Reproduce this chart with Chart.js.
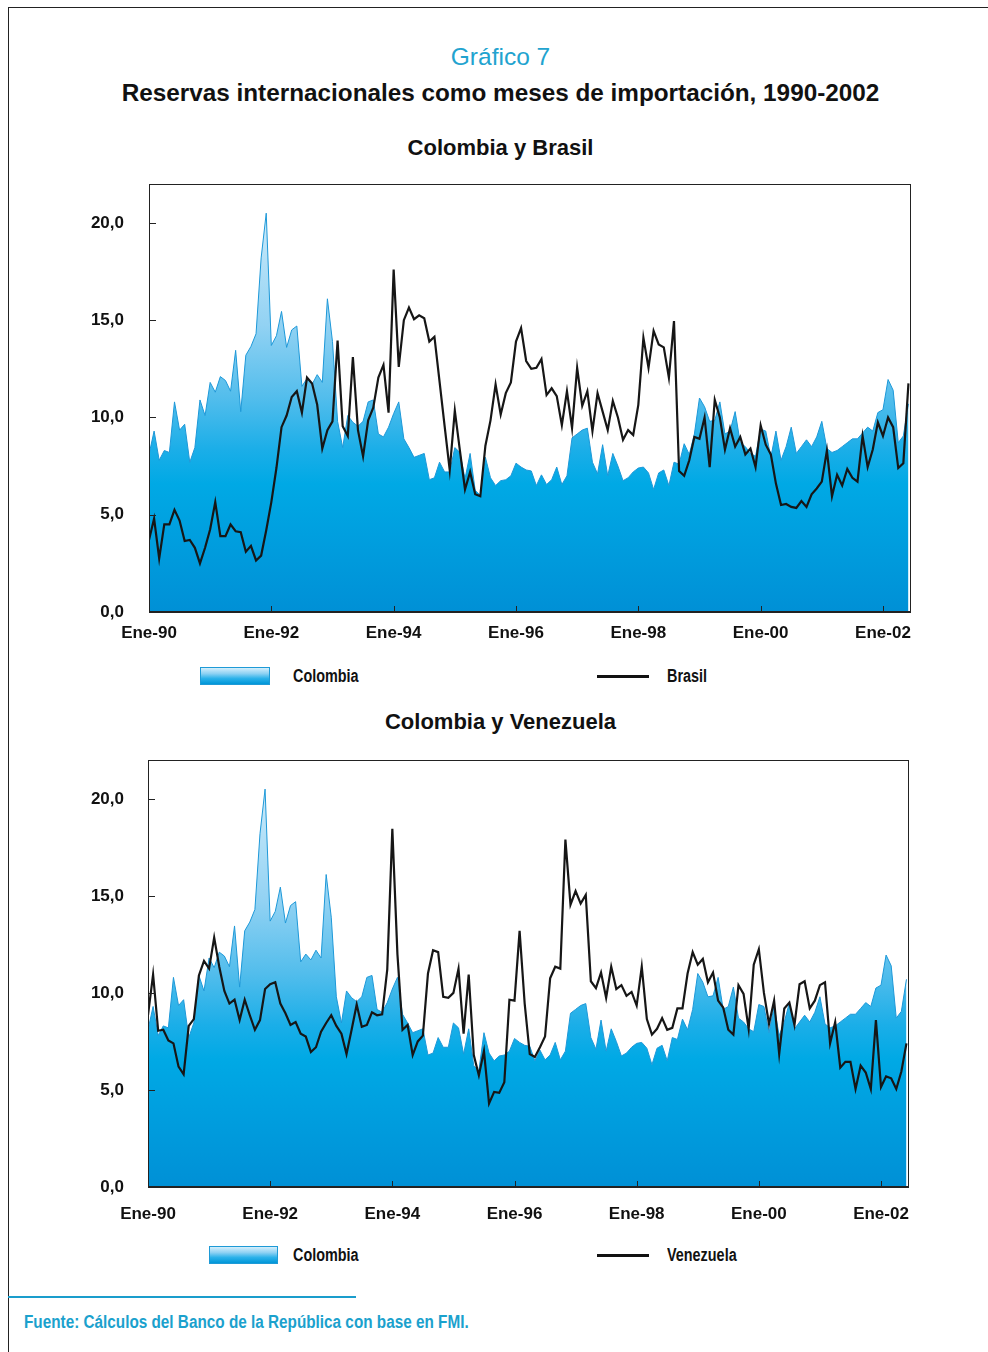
<!DOCTYPE html>
<html lang="es">
<head>
<meta charset="utf-8">
<script src="https://cdn.jsdelivr.net/npm/chart.js@4.4.1/dist/chart.umd.min.js"></script>
<style>
  body{margin:0;width:988px;height:1352px;background:#fff;position:relative;overflow:hidden;
       font-family:"Liberation Sans",Arial,sans-serif;color:#111}
  .frame{position:absolute;left:8px;top:7px;right:-2px;bottom:-2px;border-left:1px solid #222;border-top:1px solid #222}
  .t{position:absolute;left:0;width:1001px;text-align:center;white-space:nowrap;line-height:1}
  .num{top:45px;font-size:24.5px;color:#22a3cf}
  .main{top:81px;font-size:24.3px;font-weight:bold}
  .sub{font-size:22px;font-weight:bold}
  .cv{position:absolute;left:0}
  .sw{position:absolute;height:16px;border:1px solid #1e9ad6;
      background:linear-gradient(#d4effc 0%,#8ed1f3 35%,#2cb2ea 65%,#0096d8 100%)}
  .ln{position:absolute;width:52px;height:3px;background:#111}
  .lg,.foot{position:absolute;font-family:"Liberation Sans",Arial,sans-serif;font-weight:bold;font-size:18px;
      line-height:1;white-space:nowrap;transform:scaleX(0.8);transform-origin:0 50%}
  .foot-line{position:absolute;left:8px;top:1296px;width:348px;height:2px;background:#1a9dcc}
  .foot{left:24px;top:1313px;color:#1ba1cd;transform:scaleX(0.85)}
</style>
</head>
<body>
<div class="frame"></div>
<div class="t num">Gráfico 7</div>
<div class="t main">Reservas internacionales como meses de importación, 1990-2002</div>
<div class="t sub" style="top:137px">Colombia y Brasil</div>
<div class="t sub" style="top:711px">Colombia y Venezuela</div>

<canvas id="c1" class="cv" style="top:170px" width="988" height="480"></canvas>
<canvas id="c2" class="cv" style="top:745px" width="988" height="480"></canvas>

<div class="sw" style="left:200px;top:667px;width:68px"></div>
<div class="lg" style="left:293px;top:667px">Colombia</div>
<div class="ln" style="left:597px;top:675px"></div>
<div class="lg" style="left:667px;top:667px">Brasil</div>

<div class="sw" style="left:209px;top:1246px;width:67px"></div>
<div class="lg" style="left:293px;top:1246px">Colombia</div>
<div class="ln" style="left:597px;top:1254px"></div>
<div class="lg" style="left:667px;top:1246px">Venezuela</div>

<div class="foot-line"></div>
<div class="foot">Fuente: Cálculos del Banco de la República con base en FMI.</div>

<script>
// meses de importación, mensual ene-1990 .. jun-2002 (150 obs.)
const COLOMBIA = [
  8.1, 9.3, 7.8, 8.3, 8.2, 10.8, 9.35, 9.65, 7.7, 8.45, 10.9, 10.1, 11.8, 11.3, 12.1, 11.9, 11.35, 13.45, 10.3, 13.2,
  13.65, 14.3, 18.2, 20.5, 13.7, 14.2, 15.45, 13.6, 14.5, 14.7, 11.6, 12.0, 11.7, 12.2, 11.8, 16.1, 13.9, 9.8,
  8.45, 10.1, 9.75, 9.55, 9.8, 10.8, 10.9, 9.15, 9.0, 9.5, 10.2, 10.8, 8.9, 8.45, 7.95, 8.05, 8.15, 6.8, 6.9, 7.7,
  7.2, 7.2, 8.45, 8.2, 6.85, 8.15, 6.25, 6.0, 7.95, 6.9, 6.5, 6.75, 6.8, 7.0, 7.65, 7.45, 7.3,
  7.25, 6.5, 7.05, 6.55, 6.8, 7.45, 6.55, 7.0, 8.95, 9.15, 9.35, 9.45, 7.7, 7.1, 8.6, 7.0, 8.15, 7.5, 6.75, 6.9,
  7.2, 7.4, 7.45, 7.15, 6.3, 7.15, 7.3, 6.5, 7.7, 7.6, 8.65, 8.1, 9.15, 11.0, 10.55, 9.8, 9.85, 10.8,
  9.15, 9.3, 10.3, 8.7, 8.5, 8.15, 8.0, 9.4, 9.3, 7.95, 9.3, 7.8, 8.5, 9.5, 8.15, 8.5, 8.85, 8.5, 9.0, 9.8,
  8.4, 8.2, 8.3, 8.5, 8.7, 8.9, 8.9, 9.2, 9.5, 9.3, 10.25, 10.4, 11.95, 11.4, 8.7, 9.05, 10.7
];
const BRASIL = [
  3.7, 4.8, 2.75, 4.5, 4.5, 5.25, 4.7, 3.65, 3.7, 3.3, 2.5, 3.3, 4.25, 5.65, 3.9, 3.9, 4.5, 4.15, 4.1, 3.1,
  3.4, 2.65, 2.9, 4.2, 5.65, 7.4, 9.5, 10.1, 11.05, 11.35, 10.25, 12.05, 11.75, 10.65, 8.4, 9.35, 9.8, 13.95,
  9.55, 9.05, 13.1, 9.35, 8.0, 9.85, 10.5, 12.05, 12.7, 10.25, 17.6, 12.6, 15.0, 15.65, 15.05, 15.25, 15.1, 13.9,
  14.15, 11.85, 9.55, 7.3, 10.35, 8.3, 6.3, 7.2, 6.05, 5.95, 8.55, 9.85, 11.7, 10.15, 11.25, 11.8, 13.9, 14.6, 12.9,
  12.5, 12.55, 13.0, 11.15, 11.5, 11.1, 9.6, 11.35, 9.45, 12.55, 10.6, 11.35, 9.3, 11.25, 10.3, 9.35, 10.85, 10.0,
  8.85, 9.35, 9.1, 10.65, 14.1, 12.55, 14.45, 13.75, 13.6, 12.05, 14.95, 7.25, 7.0, 7.8, 9.0, 8.9, 10.0, 7.45, 10.9, 10.0,
  8.35, 9.45, 8.5, 9.0, 8.1, 8.4, 7.45, 9.6, 8.6, 8.1, 6.6, 5.5, 5.55, 5.4, 5.35, 5.7, 5.4, 6.05, 6.35, 6.7,
  8.3, 5.95, 7.05, 6.5, 7.35, 6.9, 6.7, 9.05, 7.45, 8.35, 9.75, 9.05, 10.0, 9.5, 7.4, 7.65, 11.75
];
const VENEZUELA = [
  8.85, 10.95, 8.05, 8.1, 7.55, 7.4, 6.2, 5.8, 8.3, 8.65, 10.9, 11.65, 11.25, 12.85, 11.35, 10.1, 9.45, 9.65, 8.6, 9.65,
  8.85, 8.1, 8.6, 10.2, 10.45, 10.55, 9.45, 8.95, 8.35, 8.5, 7.9, 7.75, 6.95, 7.2, 8.0, 8.45, 8.85, 8.3,
  7.9, 6.85, 8.1, 9.4, 8.25, 8.35, 9.0, 8.85, 8.9, 11.2, 18.45, 12.0, 8.1, 8.35, 6.8, 7.5, 7.8, 11.0, 12.2, 12.1,
  9.8, 9.75, 10.0, 11.25, 7.9, 10.95, 6.8, 5.75, 7.0, 4.3, 4.9, 4.85, 5.4, 9.65, 9.6, 13.2, 9.45,
  6.85, 6.7, 7.2, 7.75, 10.75, 11.35, 11.25, 17.9, 14.55, 15.25, 14.6, 15.05, 10.6, 10.25, 11.05, 9.75, 11.35, 10.2,
  10.4, 9.85, 10.05, 9.35, 11.35, 8.65, 7.85, 8.15, 8.7, 8.1, 8.2, 9.2, 9.2, 11.0, 12.1, 11.45, 11.75, 10.55, 11.05, 9.6,
  9.25, 8.1, 7.85, 10.4, 9.95, 8.15, 11.45, 12.25, 10.0, 8.4, 9.6, 6.85, 9.2, 9.5, 8.35, 10.45, 10.6, 9.2, 9.6, 10.4,
  10.55, 7.4, 8.5, 6.15, 6.45, 6.45, 5.05, 6.25, 5.9, 5.05, 8.6, 5.15, 5.7, 5.6, 5.05, 5.95, 7.4
];
const X_TICKS = [0, 24, 48, 72, 96, 120, 144];
const X_LABELS = ['Ene-90', 'Ene-92', 'Ene-94', 'Ene-96', 'Ene-98', 'Ene-00', 'Ene-02'];
const Y_TICKS = [0, 5, 10, 15, 20];

Chart.defaults.font.family = '"Liberation Sans", Arial, sans-serif';
Chart.defaults.color = '#111';

const pts = arr => arr.map((v, i) => ({x: i, y: v}));

function areaFill(ctx){
  const a = ctx.chart.chartArea;
  if(!a) return '#00a9e5';
  const g = ctx.chart.ctx.createLinearGradient(0, a.top, 0, a.bottom);
  g.addColorStop(0, '#dcf1fc');
  g.addColorStop(0.33, '#92d2f3');
  g.addColorStop(0.5, '#52bdec');
  g.addColorStop(0.62, '#1baee8');
  g.addColorStop(0.7, '#00a9e5');
  g.addColorStop(1, '#0090d6');
  return g;
}

// marco del área y marcas interiores de los ejes
const frame = {
  id: 'frame',
  afterDatasetsDraw(chart){
    const {ctx, chartArea: a, scales: {x, y}} = chart;
    ctx.save();
    ctx.strokeStyle = '#222';
    ctx.lineWidth = 1;
    X_TICKS.slice(1).forEach(v => {
      const px = Math.round(x.getPixelForValue(v)) + 0.5;
      ctx.beginPath(); ctx.moveTo(px, a.bottom); ctx.lineTo(px, a.bottom - 6); ctx.stroke();
    });
    Y_TICKS.slice(1).forEach(v => {
      const py = Math.round(y.getPixelForValue(v)) + 0.5;
      ctx.beginPath(); ctx.moveTo(a.left, py); ctx.lineTo(a.left + 7, py); ctx.stroke();
    });
    ctx.strokeRect(a.left + 0.5, a.top + 0.5, a.right - a.left - 1, a.bottom - a.top - 1);
    ctx.lineWidth = 2;
    ctx.beginPath(); ctx.moveTo(a.left, a.bottom); ctx.lineTo(a.right, a.bottom); ctx.stroke();
    ctx.restore();
  }
};

function makeChart(id, lineData, lineLabel, lay){
  return new Chart(document.getElementById(id), {
    type: 'line',
    data: {
      datasets: [
        {label: lineLabel, data: pts(lineData), borderColor: '#161616', borderWidth: 2.2,
         pointRadius: 0, fill: false, tension: 0},
        {label: 'Colombia', data: pts(COLOMBIA), borderColor: '#1d98d8', borderWidth: 1,
         backgroundColor: areaFill, pointRadius: 0, fill: 'origin', tension: 0}
      ]
    },
    options: {
      responsive: false, animation: false, events: [],
      layout: {padding: {top: lay.top, right: lay.right, left: 0, bottom: 0}},
      plugins: {legend: {display: false}, tooltip: {enabled: false}},
      scales: {
        x: {
          type: 'linear', min: 0, max: 149.5,
          grid: {display: false, drawTicks: false}, border: {display: false},
          afterBuildTicks: s => { s.ticks = X_TICKS.map(v => ({value: v})); },
          afterFit: s => { s.height = 38; s.paddingLeft = 0; s.paddingRight = 0; },
          ticks: {padding: lay.xPad, maxRotation: 0, autoSkip: false,
                  font: {size: 17, weight: 'bold'}, color: '#111',
                  callback: v => X_LABELS[X_TICKS.indexOf(v)]}
        },
        y: {
          min: 0, max: 22,
          grid: {display: false, drawTicks: false}, border: {display: false},
          afterBuildTicks: s => { s.ticks = Y_TICKS.map(v => ({value: v})); },
          afterFit: s => { s.width = lay.left; s.paddingTop = 0; s.paddingBottom = 0; },
          ticks: {padding: lay.left - 124, font: {size: 17, weight: 'bold'}, color: '#111',
                  callback: v => v.toFixed(1).replace('.', ',')}
        }
      }
    },
    plugins: [frame]
  });
}

makeChart('c1', BRASIL, 'Brasil', {top: 14, right: 77, left: 149, xPad: 11});
makeChart('c2', VENEZUELA, 'Venezuela', {top: 15, right: 79, left: 148, xPad: 17});
</script>
</body>
</html>
